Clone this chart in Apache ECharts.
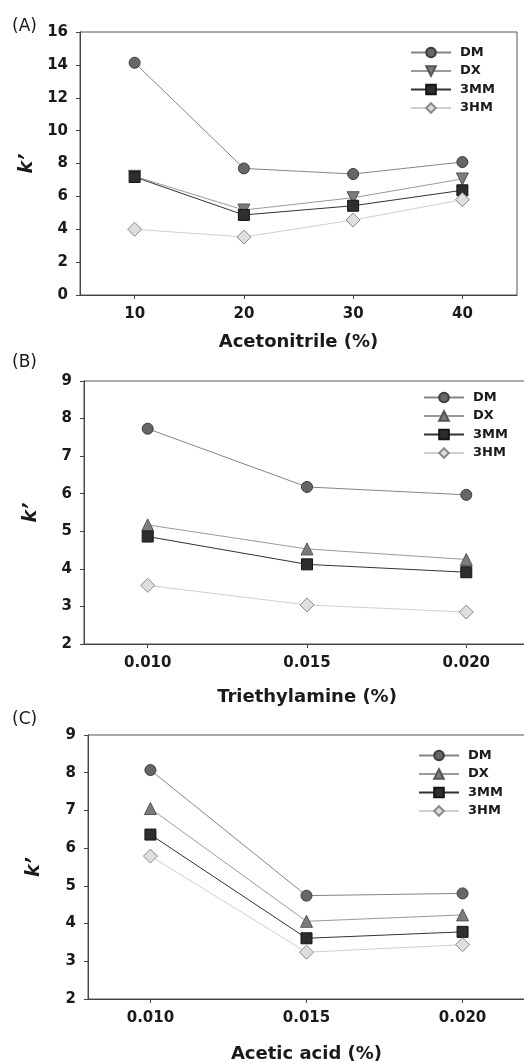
<!DOCTYPE html>
<html><head><meta charset="utf-8">
<script src="https://cdn.jsdelivr.net/npm/echarts@6/dist/echarts.min.js"></script>
<style>html,body{margin:0;padding:0;background:#fff}#c{width:524px;height:1062px}</style>
</head><body><div id="c"></div>
<script>
// ---- data ----
const compounds = ['DM', 'DX', '3MM', '3HM'];
const acetonitrile = [10, 20, 30, 40];
const aDM  = [14.13, 7.70, 7.36, 8.09];
const aDX  = [7.22, 5.17, 5.92, 7.06];
const a3MM = [7.18, 4.87, 5.43, 6.37];
const a3HM = [4.00, 3.53, 4.56, 5.80];
const triethylamine = [0.010, 0.015, 0.020];
const bDM  = [7.73, 6.18, 5.97];
const bDX  = [5.17, 4.53, 4.25];
const b3MM = [4.86, 4.12, 3.91];
const b3HM = [3.56, 3.04, 2.85];
const aceticAcid = [0.010, 0.015, 0.020];
const cDM  = [8.07, 4.74, 4.80];
const cDX  = [7.05, 4.06, 4.23];
const c3MM = [6.36, 3.61, 3.78];
const c3HM = [5.79, 3.24, 3.44];
const xTicksA = [10, 20, 30, 40];
const xTicksBC = [0.010, 0.015, 0.020];
const panelLabels = ['(A)', '(B)', '(C)'];
const xNames = ['Acetonitrile (%)', 'Triethylamine (%)', 'Acetic acid (%)'];
const yName = 'k\u2019';

// ---- styling ----
const FONT = 'DejaVu Sans';
const TXT = '#1a1a1a';
const sty = {
  DM:   {symbol: 'circle',   size: 11, fill: '#666666', border: '#3c3c3c', line: '#858585'},
  DX:   {symbol: 'triangle', size: 12, fill: '#7c7c7c', border: '#555555', line: '#9a9a9a'},
  '3MM':{symbol: 'rect',     size: 11, fill: '#2e2e2e', border: '#141414', line: '#333333'},
  '3HM':{symbol: 'diamond',  size: 14, fill: '#dedede', border: '#8a8a8a', line: '#cfcfcf'}
};

const panels = [
  {x: acetonitrile, ys: [aDM, aDX, a3MM, a3HM], grid: {left: 80, top: 32, width: 437, height: 263},
   xmin: 5, xmax: 45, xt: xTicksA, fmt: v => String(v), ymin: 0, ymax: 16, yint: 2,
   nameGap: 38, yGap: 41, dxRot: 180, legend: {left: 405, top: 41}},
  {x: triethylamine, ys: [bDM, bDX, b3MM, b3HM], grid: {left: 84, top: 381, width: 446, height: 263},
   xmin: 0.008, xmax: 0.022, xt: xTicksBC, fmt: v => v.toFixed(3), ymin: 2, ymax: 9, yint: 1,
   nameGap: 44, yGap: 43, dxRot: 0, legend: {left: 418, top: 386}},
  {x: aceticAcid, ys: [cDM, cDX, c3MM, c3HM], grid: {left: 88, top: 735, width: 437, height: 264},
   xmin: 0.008, xmax: 0.022, xt: xTicksBC, fmt: v => v.toFixed(3), ymin: 2, ymax: 9, yint: 1,
   nameGap: 46, yGap: 44, dxRot: 0, legend: {left: 413, top: 744}}
];

const option = {
  animation: false,
  backgroundColor: '#fff',
  grid: [], xAxis: [], yAxis: [], series: [], legend: [],
  graphic: []
};
const labelTops = [18, 354, 711];

panels.forEach((p, i) => {
  option.grid.push(Object.assign({show: true, borderColor: '#555', borderWidth: 1,
    containLabel: false, outerBoundsMode: 'none'}, p.grid));
  option.xAxis.push({
    type: 'value', gridIndex: i, min: p.xmin, max: p.xmax,
    name: xNames[i], nameLocation: 'middle', nameGap: p.nameGap,
    nameTextStyle: {fontFamily: FONT, fontWeight: 'bold', fontSize: 18, color: TXT, verticalAlign: 'top'},
    axisLine: {show: true, lineStyle: {color: '#444', width: 1}},
    axisTick: {show: true, length: 4, customValues: p.xt, lineStyle: {color: '#444'}},
    axisLabel: {customValues: p.xt, formatter: p.fmt, margin: 12,
      fontFamily: FONT, fontWeight: 'bold', fontSize: 15, color: TXT},
    splitLine: {show: false}
  });
  option.yAxis.push({
    type: 'value', gridIndex: i, min: p.ymin, max: p.ymax, interval: p.yint,
    name: yName, nameLocation: 'middle', nameGap: p.yGap,
    nameTextStyle: {fontFamily: FONT, fontWeight: 'bold', fontStyle: 'italic', fontSize: 19, color: TXT},
    axisLine: {show: true, lineStyle: {color: '#444', width: 1}},
    axisTick: {show: true, length: 4, lineStyle: {color: '#444'}},
    axisLabel: {margin: 12, fontFamily: FONT, fontWeight: 'bold', fontSize: 15, color: TXT},
    splitLine: {show: false}
  });
  const names = [];
  compounds.forEach((c, k) => {
    const s = sty[c];
    const nm = i + '|' + c;
    names.push(nm);
    option.series.push({
      type: 'line', name: nm, xAxisIndex: i, yAxisIndex: i,
      data: p.x.map((xv, j) => [xv, p.ys[k][j]]),
      symbol: s.symbol, symbolSize: s.size,
      symbolRotate: (c === 'DX') ? p.dxRot : 0,
      showAllSymbol: true,
      lineStyle: {color: s.line, width: 1},
      itemStyle: {color: s.fill, borderColor: s.border, borderWidth: 1},
      z: 2 + k
    });
  });
  option.legend.push({
    data: names, orient: 'vertical', left: p.legend.left, top: p.legend.top,
    itemWidth: 40, itemHeight: 12, itemGap: 5.5,
    formatter: n => n.split('|')[1],
    textStyle: {fontFamily: FONT, fontWeight: 'bold', fontSize: 13, color: TXT, padding: [0, 0, 0, 4]},
    selectedMode: false
  });
  option.graphic.push({
    type: 'text', left: 12, top: labelTops[i],
    style: {text: panelLabels[i], font: '17px "DejaVu Sans"', fill: TXT}
  });
});

const chart = echarts.init(document.getElementById('c'), null, {renderer: 'canvas'});
chart.setOption(option);
</script>
</body></html>
